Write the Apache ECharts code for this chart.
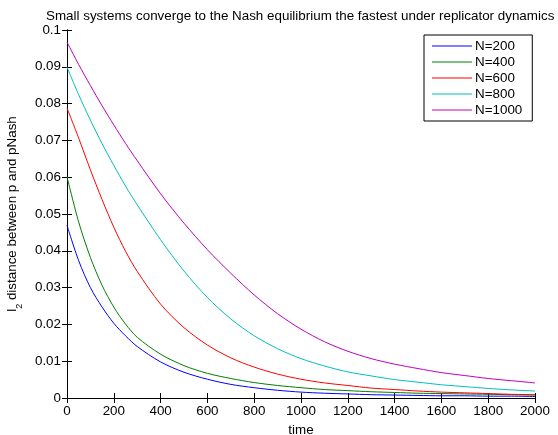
<!DOCTYPE html>
<html>
<head>
<meta charset="utf-8">
<script src="https://cdn.jsdelivr.net/npm/echarts@6/dist/echarts.min.js"></script>
<style>
html,body{margin:0;padding:0;background:#fff;}
#chart{width:558px;height:435px;}
</style>
</head>
<body>
<div id="chart"></div>
<script>
var titleText = 'Small systems converge to the Nash equilibrium the fastest under replicator dynamics';
var times = [0,50,100,150,200,250,300,400,500,600,700,800,900,1000,1100,1200,1300,1400,1500,1600,1700,1800,1900,2000];
var seriesNames = ['N=200','N=400','N=600','N=800','N=1000'];
var n200  = [0.0469,0.0373,0.0300,0.0247,0.0203,0.0169,0.0140,0.0098,0.0070,0.0051,0.0037,0.0028,0.0021,0.0016,0.0013,0.0011,0.0009,0.0008,0.0007,0.0006,0.0006,0.0005,0.0005,0.0004];
var n400  = [0.0601,0.0478,0.0382,0.0306,0.0247,0.0201,0.0165,0.0119,0.0088,0.0067,0.0053,0.0042,0.0034,0.0028,0.0023,0.0020,0.0017,0.0015,0.0013,0.0012,0.0011,0.0010,0.0009,0.0008];
var n600  = [0.0788,0.0706,0.0620,0.0539,0.0464,0.0399,0.0344,0.0255,0.0191,0.0144,0.0109,0.0084,0.0065,0.0051,0.0041,0.0034,0.0027,0.0023,0.0019,0.0016,0.0014,0.0012,0.0010,0.0009];
var n800  = [0.0899,0.0824,0.0755,0.0691,0.0632,0.0576,0.0525,0.0430,0.0345,0.0273,0.0215,0.0169,0.0134,0.0107,0.0087,0.0071,0.0060,0.0050,0.0043,0.0036,0.0031,0.0026,0.0022,0.0019];
var n1000 = [0.0967,0.0906,0.0849,0.0794,0.0742,0.0692,0.0645,0.0555,0.0475,0.0403,0.0339,0.0280,0.0229,0.0187,0.0153,0.0127,0.0107,0.0092,0.0080,0.0069,0.0061,0.0053,0.0047,0.0041];
var xTicks = [0,200,400,600,800,1000,1200,1400,1600,1800,2000];
var colors = ['#0000ff','#008000','#ff0000','#00bfbf','#bf00bf'];

var allValues = [n200,n400,n600,n800,n1000];
function pairs(vals){ return times.map(function(t,i){ return [t, vals[i]]; }); }

var FONT = 'Liberation Sans, Arial, Helvetica, sans-serif';
var chart = echarts.init(document.getElementById('chart'), null, {renderer:'canvas'});
var axisCommon = {
  axisLine:{show:true, lineStyle:{color:'#000', width:1}},
  axisTick:{show:true, inside:true, length:5, lineStyle:{color:'#000'}},
  splitLine:{show:false}
};
chart.setOption({
  animation:false,
  backgroundColor:'#fff',
  title:{text:titleText, left:41, top:5, textStyle:{fontFamily:FONT, fontSize:13.4, fontWeight:'normal', color:'#000'}},
  grid:{left:67, right:23, top:30, bottom:37, containLabel:false, outerBoundsMode:'none'},
  legend:{
    orient:'vertical', left:424, top:35, data:seriesNames,
    icon:'rect',
    backgroundColor:'#fff', borderColor:'#000', borderWidth:1, borderRadius:0,
    padding:[3,10,3,8], itemWidth:40, itemHeight:1, itemGap:0,
    textStyle:{fontFamily:FONT, fontSize:13.4, lineHeight:16, color:'#000', padding:[0,0,0,-2]}
  },
  xAxis:[
    Object.assign({type:'value', min:0, max:2000, interval:200, name:'time', nameLocation:'middle', nameGap:26,
      nameTextStyle:{fontFamily:FONT, fontSize:13.4, color:'#000'},
      axisLabel:{fontFamily:FONT, fontSize:13.4, color:'#000', margin:7, formatter:function(v){return String(v);}}}, axisCommon),
    Object.assign({type:'value', min:0, max:2000, interval:200, position:'top', axisLabel:{show:false}}, axisCommon)
  ],
  yAxis:[
    Object.assign({type:'value', min:0, max:0.1, interval:0.01,
      name:'{a|l}{s|2}{a| distance between p and pNash}', nameLocation:'middle', nameGap:45, nameRotate:90,
      nameTextStyle:{fontFamily:FONT, fontSize:13.4, color:'#000',
        rich:{a:{fontFamily:FONT, fontSize:13.4, color:'#000', verticalAlign:'bottom', lineHeight:16},
              s:{fontFamily:FONT, fontSize:9, color:'#000', verticalAlign:'bottom', lineHeight:16, padding:[0,0,-5,0]}}},
      axisLabel:{fontFamily:FONT, fontSize:13.4, color:'#000', margin:6}}, axisCommon),
    Object.assign({type:'value', min:0, max:0.1, interval:0.01, position:'right', axisLabel:{show:false}}, axisCommon)
  ],
  series: allValues.map(function(vals, i){
    return {name:seriesNames[i], type:'line', data:pairs(vals), smooth:0.3, symbol:'none',
      lineStyle:{color:colors[i], width:1}, itemStyle:{color:colors[i]}};
  })
});
</script>
</body>
</html>
